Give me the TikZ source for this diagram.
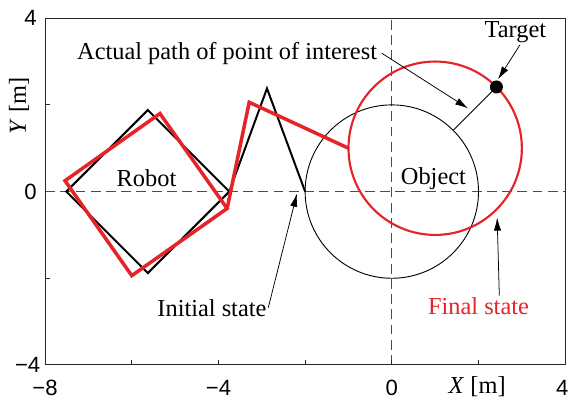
\documentclass[tikz,border=0pt]{standalone}
\usepackage{fontspec}
\setmainfont{Liberation Serif}
\setsansfont{Liberation Sans}
\usetikzlibrary{arrows.meta,positioning}
\definecolor{finalred}{RGB}{230,35,40}

\begin{document}
\begin{tikzpicture}[
  font=\fontsize{16}{18}\selectfont,
  lbl/.style={inner sep=1pt},
  ticklbl/.style={font=\sffamily\fontsize{14.5}{16}\selectfont, inner sep=1pt},
  frame/.style={line width=.6pt, draw=black!85},
  guide/.style={dash pattern=on 6.5pt off 3.5pt, line width=.6pt, draw=black!70},
  init/.style={line width=1.3pt, line join=miter},
  final/.style={line width=2.3pt, draw=finalred, line join=miter},
  ar/.style={-{Latex[length=3mm,width=1.7mm]}, line width=.5pt},
]
\useasboundingbox (-9.04,-4.79) rectangle (4.18,4.42);

% axes and guides
\draw[guide] (-8,0) -- (4,0);
\draw[guide] (0,-4) -- (0,4);
\draw[frame] (-8,-4) rectangle (4,4);
\foreach \x in {-6,-4,-2,0,2}
  \draw[frame] (\x,-4) -- ++(0,0.12);
\foreach \y in {-2,2}
  \draw[frame] (-8,\y) -- ++(0.12,0);

\node[ticklbl, anchor=east] (y4) at (-8.15,4) {4};
\node[ticklbl, anchor=east] (y0) at (-8.15,0) {0};
\node[ticklbl, anchor=east] (ym4) at (-8.07,-4) {−4};
\node[ticklbl] (xm8) at (-8,-4.53) {−8};
\node[ticklbl] (xm4) at (-4,-4.53) {−4};
\node[ticklbl] (x0) at (0,-4.53) {0};
\node[ticklbl] (x4) at (3.93,-4.53) {4};
\node[lbl] (xlab) at (1.97,-4.5) {\textit{X} [m]};
\node[lbl, rotate=90] (ylab) at (-8.6,1.98) {\textit{Y} [m]};

% object
\draw[line width=.6pt] (0,0) circle (2);
\draw[final, line width=1.4pt] (1,1) circle (2);
\coordinate (poi0) at (1.414,1.414);
\coordinate (poi1) at (2.414,2.414);
\draw[line width=.6pt] (poi0) -- (poi1);
\fill (poi1) circle (0.15);

% robot, initial
\draw[init] (-7.51,0) -- (-5.63,1.88) -- (-3.75,0) -- (-5.63,-1.88) -- cycle;
\draw[init] (-3.75,0) -- (-2.88,2.38) -- (-2,0);
% robot, final
\draw[final] (-7.54,0.25) -- (-5.35,1.80) -- (-3.8,-0.39) -- (-6.0,-1.94) -- cycle;
\draw[final] (-3.8,-0.39) -- (-3.29,2.06) -- (-1,1);

% labels
\node[lbl] (robot) at (-5.66,0.32) {Robot};
\node[lbl] (object) at (0.96,0.3) {Object};
\node[lbl] (path) at (-3.8,3.19) {Actual path of point of interest};
\node[lbl] (target) at (2.85,3.67) {Target};
\node[lbl] (initial) at (-4.15,-2.68) {Initial state};
\node[lbl, text=finalred] (final) at (2.0,-2.64) {Final state};

\coordinate (pathtip) at (1.76,1.92);
\coordinate (targettip) at (2.45,2.59);
\coordinate (initialtip) at (-2.19,-0.05);
\coordinate (finaltip) at (2.43,-0.6);

\draw[ar] ([xshift=2pt]path.east) -- (pathtip);
\draw[ar] ([xshift=3pt]target.south) -- (targettip);
\draw[ar] (initial.east) -- (initialtip);
\draw[ar] ([xshift=0.48cm]final.north) -- (finaltip);
\end{tikzpicture}
\end{document}
